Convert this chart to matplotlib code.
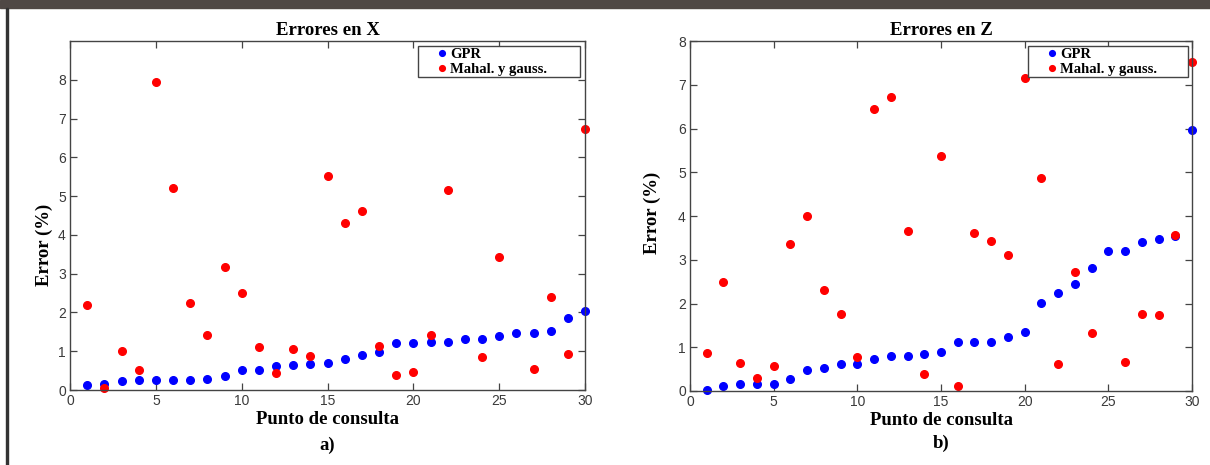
import numpy as np
import matplotlib
matplotlib.use("Agg")
import matplotlib.pyplot as plt

puntos = np.arange(1, 31)

# Errores en X
gpr_x = [0.12, 0.15, 0.22, 0.27, 0.27, 0.27, 0.27, 0.29, 0.35, 0.51,
         0.52, 0.62, 0.64, 0.66, 0.69, 0.80, 0.90, 0.98, 1.20, 1.22,
         1.24, 1.24, 1.31, 1.31, 1.39, 1.46, 1.46, 1.52, 1.86, 2.05]
mahal_x = [2.19, 0.05, 1.00, 0.52, 7.94, 5.20, 2.25, 1.42, 3.18, 2.51,
           1.10, 0.43, 1.06, 0.88, 5.53, 4.30, 4.62, 1.14, 0.39, 0.47,
           1.41, 5.15, np.nan, 0.86, 3.42, np.nan, 0.54, 2.39, 0.92, 6.73]

# Errores en Z
gpr_z = [0.02, 0.12, 0.15, 0.17, 0.17, 0.28, 0.48, 0.52, 0.61, 0.62,
         0.74, 0.80, 0.80, 0.85, 0.90, 1.11, 1.11, 1.13, 1.24, 1.36,
         2.02, 2.25, 2.44, 2.81, 3.21, 3.21, 3.41, 3.48, 3.55, 5.96]
mahal_z = [0.88, 2.50, 0.65, 0.29, 0.57, 3.35, 4.00, 2.30, 1.75, 0.78,
           6.45, 6.73, 3.66, 0.38, 5.37, 0.12, 3.62, 3.44, 3.10, 7.16,
           4.87, 0.62, 2.73, 1.33, np.nan, 0.67, 1.77, 1.73, 3.57, 7.53]

serif = ["Liberation Serif", "DejaVu Serif"]
sans = ["Liberation Sans", "DejaVu Sans"]

fig = plt.figure(figsize=(12.1, 4.65), dpi=100)

# dark band at the top and thin frame on the left (page crop)
fig.patches.append(plt.Rectangle((0, 1 - 8 / 465), 1, 8 / 465, transform=fig.transFigure,
                                 color="#4f4845", zorder=0))
fig.patches.append(plt.Rectangle((6 / 1210, 0), 2 / 1210, 1 - 8 / 465, transform=fig.transFigure,
                                 color="#333333", zorder=0))


def panel(rect, gpr, mahal, titulo, ymax, letra, ylab_pos, letra_y, leg_box):
    ax = fig.add_axes(rect)
    ax.plot(puntos, gpr, "o", color="#0000ff", markersize=5.5, label="GPR", clip_on=False)
    ax.plot(puntos, mahal, "o", color="#ff0000", markersize=5.5, label="Mahal. y gauss.", clip_on=False)
    ax.set_xlim(0, 30)
    ax.set_ylim(0, ymax)
    ax.set_xticks(range(0, 31, 5))
    ax.set_yticks([t for t in range(0, 9) if t <= ymax])
    ax.tick_params(direction="in", top=True, right=True, length=5, width=0.9,
                   colors="#444444", labelsize=10, pad=3)
    for lab in ax.get_xticklabels() + ax.get_yticklabels():
        lab.set_family(sans)
        lab.set_color("#3a3a3a")
    for s in ax.spines.values():
        s.set_color("#444444")
        s.set_linewidth(1.0)
    ax.set_title(titulo, fontsize=13.5, fontweight="bold", family=serif, pad=4)
    ax.set_xlabel("Punto de consulta", fontsize=13.5, fontweight="bold", family=serif, labelpad=2)
    ax.set_ylabel("Error (%)", fontsize=13.5, fontweight="bold", family=serif)
    ax.yaxis.set_label_coords(*ylab_pos)
    leg = ax.legend(loc="upper left", bbox_to_anchor=leg_box, mode="expand",
                    fancybox=False, framealpha=1, edgecolor="#444444",
                    prop={"family": serif, "weight": "bold", "size": 10.5},
                    markerscale=0.75, handlelength=3.1, handletextpad=-1.0,
                    borderpad=0.12, labelspacing=0.1, borderaxespad=0)
    leg.get_frame().set_linewidth(1.0)
    ax.text(0.5, letra_y, letra, transform=ax.transAxes, ha="center", va="center",
            fontsize=13.5, fontweight="bold", family=serif)
    return ax


panel([70 / 1210, 1 - 390 / 465, 515 / 1210, 349 / 465], gpr_x, mahal_x, "Errores en X", 9, "a)",
      (-0.033, 0.415), -0.158, (0.6757, 0.9857, 0.3146, 0))
panel([690 / 1210, 1 - 391 / 465, 502 / 1210, 350 / 465], gpr_z, mahal_z, "Errores en Z", 8, "b)",
      (-0.058, 0.51), -0.149, (0.673, 0.9857, 0.319, 0))

fig.savefig("out.png", dpi=100)
